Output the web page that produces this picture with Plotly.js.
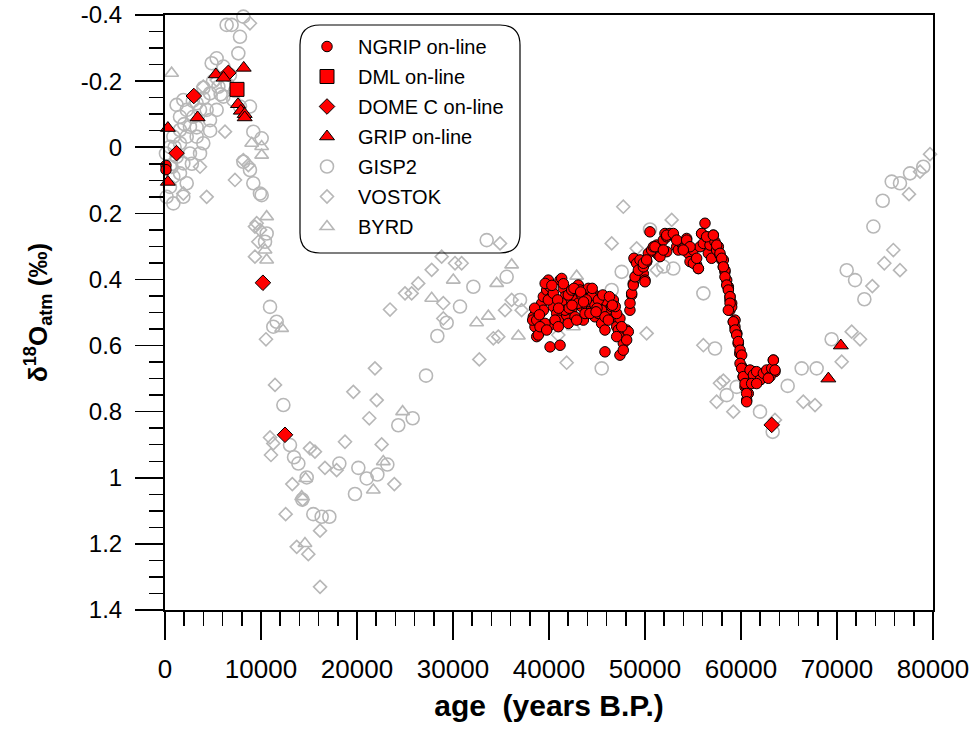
<!DOCTYPE html>
<html>
<head>
<meta charset="utf-8">
<script src="https://cdn.plot.ly/plotly-3.0.1.min.js"></script>
<style>html,body{margin:0;padding:0;background:#fff;}#chart{width:969px;height:731px;}</style>
</head>
<body>
<div id="chart"></div>
<script>
// ---------- data (age in years B.P., delta18O atm in permil) ----------
const ngripAge = [100,100,
38370,38540,38720,38890,38300,39060,39240,39410,39760,39930,40110,40280,40450,40800,40970,41150,41320,41490,41670,41840,42010,42190,42360,42530,42710,42880,43050,43230,43400,43580,43750,43920,44100,44270,44440,44620,44790,44960,45140,45310,45480,45660,45830,46000,46180,46350,46700,46870,47050,47220,47390,47570,47740,47910,48090,48260,47390,45830,40110,41150,40110,
38720,39410,39580,39930,40450,40630,41320,41670,42010,42360,42710,43050,43400,43750,44100,44440,44790,45140,45480,45830,46180,46530,47050,47570,48090,47740,47050,39060,39760,40970,42880,44270,
39600,40300,40900,41500,42100,42600,43300,43900,44500,45000,45600,46300,46900,38500,39000,41000,42400,43600,44900,46600,
48430,48610,48780,48950,49130,49470,49820,50170,50520,50860,51210,51380,
48440,48610,48780,48960,48850,49130,49310,49480,49830,50000,50170,50350,50690,50870,51220,51560,51910,52080,52260,52600,52950,53300,53470,53820,53990,54340,54510,54690,55030,55380,55560,55730,55900,56080,56250,56420,56600,56770,56940,57120,57290,57460,57640,57810,57990,58160,58330,58510,58680,58850,59030,58850,59200,59370,59550,59720,59890,60070,60240,60420,60590,52260,51560,
52260,52950,53300,54340,54690,55040,55560,55900,56420,57120,57470,57810,58160,58330,58680,58850,59030,59380,59550,59720,59900,60070,60240,60590,60760,61290,61980,62850,63370,63540,49830,50170,50000,51040,51910,53990,55380,
57990,58160,58330,58510,58680,58860,58860,58680,59200,59380,59550,59720,59900,60070,59900,60070,60240,60420,60590,60590,60940,61290,61630,61980,62330,62680,63020,63200,63370,63540,61110,61630,62850];
const ngripD = [0.055,0.068,
0.513,0.543,0.573,0.568,0.523,0.503,0.472,0.452,0.432,0.402,0.422,0.452,0.482,0.503,0.523,0.402,0.397,0.427,0.452,0.508,0.533,0.472,0.493,0.452,0.442,0.462,0.417,0.432,0.482,0.523,0.452,0.493,0.427,0.462,0.482,0.442,0.513,0.472,0.503,0.452,0.533,0.482,0.553,0.467,0.493,0.503,0.462,0.513,0.543,0.553,0.518,0.573,0.593,0.563,0.553,0.558,0.629,0.619,0.604,0.599,0.538,
0.523,0.493,0.533,0.462,0.442,0.523,0.472,0.493,0.447,0.432,0.513,0.472,0.447,0.503,0.467,0.452,0.477,0.462,0.493,0.513,0.523,0.482,0.503,0.543,0.583,0.614,0.573,0.543,0.553,0.543,0.523,0.503,
0.412,0.418,0.462,0.413,0.487,0.427,0.438,0.462,0.427,0.487,0.447,0.452,0.482,0.487,0.507,0.487,0.478,0.468,0.498,0.478,
0.493,0.447,0.412,0.341,0.387,0.351,0.382,0.346,0.256,0.311,0.301,0.326,
0.472,0.442,0.417,0.392,0.336,0.351,0.372,0.341,0.362,0.402,0.346,0.321,0.311,0.301,0.296,0.311,0.281,0.261,0.271,0.261,0.266,0.301,0.311,0.291,0.306,0.276,0.321,0.346,0.311,0.356,0.367,0.301,0.261,0.291,0.230,0.271,0.321,0.296,0.336,0.266,0.286,0.311,0.301,0.326,0.341,0.362,0.377,0.402,0.422,0.452,0.472,0.493,0.528,0.543,0.563,0.593,0.624,0.664,0.694,0.725,0.765,0.316,0.331,
0.266,0.261,0.281,0.281,0.301,0.351,0.367,0.261,0.271,0.266,0.296,0.321,0.341,0.372,0.427,0.462,0.483,0.523,0.563,0.594,0.624,0.664,0.694,0.725,0.745,0.679,0.704,0.679,0.644,0.679,0.351,0.341,0.407,0.301,0.311,0.311,0.336,
0.336,0.362,0.392,0.417,0.432,0.452,0.472,0.493,0.528,0.553,0.568,0.588,0.614,0.629,0.654,0.669,0.694,0.715,0.745,0.770,0.674,0.689,0.679,0.704,0.684,0.674,0.694,0.669,0.644,0.674,0.715,0.715,0.699];

const dmlAge = [7500];
const dmlD = [-0.175];

const domecAge = [1200,3000,6600,10200,12500,63200];
const domecD = [0.018,-0.155,-0.225,0.41,0.87,0.84];

const gripAge = [300,300,3400,5300,6100,8200,7600,7900,8300,8300,69100,70400];
const gripD = [-0.058,0.105,-0.09,-0.22,-0.21,-0.24,-0.13,-0.11,-0.10,-0.09,0.70,0.60];

const gisp2Age = [6420,6940,8160,7810,7640,5380,4860,6080,6770,5560,4690,3990,3300,1910,1210,2260,1560,2950,3650,4340,5380,6080,7120,7810,8850,4690,2600,1560,870,2260,3300,3990,1560,520,100,1210,1910,2600,3650,520,1560,870,2260,520,1910,870,170,9890,9200,8850,8160,9200,10070,10070,10590,10420,10940,11630,11280,12330,
2900,4000,5000,6500,3300,2000,1000,700,2800,4700,5800,7300,
13020,13440,13890,14760,14300,15450,16320,17120,18160,20140,21010,22120,23160,19790,25800,24300,27190,28370,29340,30730,32120,33510,35590,36980,39060,
50520,47570,46530,52950,51910,56080,57290,45490,58510,59550,61980,64860,66320,67880,69440,63300,71010,71880,72850,73790,74760,75700,76560,77610,78990];
const gisp2D = [-0.370,-0.370,-0.395,-0.334,-0.284,-0.269,-0.254,-0.244,-0.218,-0.183,-0.163,-0.148,-0.133,-0.143,-0.128,-0.113,-0.092,-0.092,-0.113,-0.113,-0.113,-0.153,-0.143,-0.123,-0.123,-0.082,-0.062,-0.052,-0.032,-0.032,-0.032,-0.012,-0.012,-0.001,0.019,0.029,0.049,0.019,0.019,0.059,0.079,0.089,0.109,0.120,0.150,0.170,0.150,0.140,0.109,0.069,0.044,-0.047,-0.027,0.145,0.261,0.286,0.483,0.528,0.543,0.780,
-0.14,-0.18,-0.20,-0.19,-0.06,-0.07,0.00,0.06,0.05,-0.05,-0.16,-0.17,
0.901,0.938,0.957,0.999,1.066,1.110,1.118,1.118,0.957,0.970,1.002,0.990,0.960,1.049,0.820,0.841,0.691,0.571,0.531,0.482,0.422,0.281,0.392,0.462,0.553,
0.249,0.377,0.432,0.367,0.361,0.442,0.609,0.669,0.750,0.725,0.800,0.722,0.669,0.669,0.581,0.861,0.372,0.402,0.460,0.240,0.162,0.104,0.109,0.079,0.059];

const vostokAge = [8850,6250,7290,4340,8160,8680,3650,1910,5380,3990,9550,9900,9370,9720,9370,10520,11460,
10940,11280,11040,15100,15620,16660,17880,18750,22570,13260,14340,12570,16150,13720,14930,16150,21280,22050,23890,19620,21870,
23440,25000,25690,26380,27780,28820,28990,28990,30210,30900,34900,35420,36110,37150,34200,34720,32740,
47740,52780,46530,49130,40970,41840,50170,56080,57810,57460,59200,58160,63540,66490,67710,70490,71530,72400,73680,74930,75870,76560,77500,78650,79690,51220];
const vostokD = [-0.375,-0.047,0.099,0.150,0.039,0.054,0.059,0.140,-0.203,-0.183,0.230,0.250,0.240,0.286,0.331,0.581,0.719,
0.878,0.896,0.931,0.911,0.921,0.970,0.977,0.891,0.899,1.019,1.066,1.110,1.160,1.209,1.231,1.330,0.820,0.765,1.019,0.740,0.669,
0.491,0.442,0.442,0.412,0.371,0.331,0.472,0.518,0.351,0.351,0.291,0.493,0.462,0.493,0.578,0.573,0.642,
0.180,0.220,0.291,0.306,0.568,0.652,0.563,0.599,0.714,0.770,0.800,0.706,0.825,0.770,0.780,0.649,0.558,0.581,0.420,0.351,0.311,0.372,0.142,0.074,0.021,0.372];

const byrdAge = [690,9030,10070,10070,10590,10420,10590,12150,14650,14240,14580,22740,21700,24750,27780,30030,36110,34550,32460,33680,36810,42880,42540];
const byrdD = [-0.224,-0.012,-0.002,0.024,0.210,0.311,0.341,0.548,1.002,1.057,1.199,0.951,1.037,0.800,0.457,0.402,0.356,0.412,0.531,0.511,0.571,0.390,0.543];

const xTickVals = [0,10000,20000,30000,40000,50000,60000,70000,80000];
const xTickText = ['0','10000','20000','30000','40000','50000','60000','70000','80000'];
const yTickVals = [-0.4,-0.2,0,0.2,0.4,0.6,0.8,1,1.2,1.4];
const yTickText = ['-0.4','-0.2','0','0.2','0.4','0.6','0.8','1','1.2','1.4'];

// ---------- styling ----------
const RED = '#ff0000';
const GRAY = '#b7b7b7';
const FONT = 'Liberation Sans, Arial, Helvetica, sans-serif';

function tr(name, x, y, marker, rank) {
  return {type:'scatter', mode:'markers', name:name, x:x, y:y, marker:marker,
          legendrank:rank, legendgroup:name, cliponaxis:false, hoverinfo:'x+y+name'};
}

const data = [
  tr('GISP2', gisp2Age, gisp2D, {symbol:'circle-open', size:13, color:GRAY, line:{color:GRAY, width:1.6}}, 5),
  tr('VOSTOK', vostokAge, vostokD, {symbol:'diamond-open', size:10, color:GRAY, line:{color:GRAY, width:1.6}}, 6),
  tr('BYRD', byrdAge, byrdD, {symbol:'triangle-up-open', size:12, color:GRAY, line:{color:GRAY, width:1.6}}, 7),
  tr('NGRIP on-line', ngripAge, ngripD, {symbol:'circle', size:10.5, color:RED, line:{color:'#000', width:1}}, 1),
  tr('DML on-line', dmlAge, dmlD, {symbol:'square', size:14, color:RED, line:{color:'#000', width:1}}, 2),
  tr('DOME C on-line', domecAge, domecD, {symbol:'diamond', size:12, color:RED, line:{color:'#000', width:1}}, 3),
  tr('GRIP on-line', gripAge, gripD, {symbol:'triangle-up', size:13, color:RED, line:{color:'#000', width:1}}, 4)
];

// legend frame (rounded rectangle) in paper coords
const x0 = (300-165)/768, x1 = (520-165)/768, yt = (610-25)/595, yb = (610-253)/595;
const rx = 20/768, ry = 20/595;
const boxPath = 'M'+(x0+rx)+','+yt+' L'+(x1-rx)+','+yt+' Q'+x1+','+yt+' '+x1+','+(yt-ry)+
  ' L'+x1+','+(yb+ry)+' Q'+x1+','+yb+' '+(x1-rx)+','+yb+' L'+(x0+rx)+','+yb+' Q'+x0+','+yb+' '+x0+','+(yb+ry)+
  ' L'+x0+','+(yt-ry)+' Q'+x0+','+yt+' '+(x0+rx)+','+yt+' Z';

const axisCommon = {
  showgrid:false, zeroline:false, showline:true, linecolor:'#000', linewidth:2, mirror:true,
  ticks:'outside', ticklen:28, tickwidth:1.5, tickcolor:'#000', tickmode:'array',
  ticklabeloverflow:'allow'
};

const layout = {
  width:969, height:731,
  margin:{l:165, r:36, t:15, b:121, pad:0},
  paper_bgcolor:'#fff', plot_bgcolor:'#fff',
  font:{family:FONT, color:'#000'},
  showlegend:true,
  legend:{x:(296-165)/768, y:(610-27)/595, xanchor:'left', yanchor:'top',
          bgcolor:'rgba(0,0,0,0)', borderwidth:0, itemwidth:52, tracegroupgap:1,
          traceorder:'grouped', font:{family:FONT, size:20, color:'#000'}},
  xaxis: Object.assign({}, axisCommon, {
    range:[0,80000], tickvals:xTickVals, ticktext:xTickText, ticklabelstandoff:7,
    tickfont:{family:FONT, size:26, color:'#000'},
    minor:{tickmode:'linear', tick0:0, dtick:2000, ticks:'outside', ticklen:14, tickwidth:1.5, tickcolor:'#000', showgrid:false},
    title:{text:'<b>age \u00a0(years B.P.)</b>', font:{family:FONT, size:30, color:'#000'}, standoff:12}
  }),
  yaxis: Object.assign({}, axisCommon, {
    range:[1.4,-0.4], tickvals:yTickVals, ticktext:yTickText, ticklabelstandoff:8,
    tickfont:{family:FONT, size:24, color:'#000'},
    minor:{tickmode:'linear', tick0:0, dtick:0.05, ticks:'outside', ticklen:14, tickwidth:1.5, tickcolor:'#000', showgrid:false},
    title:{text:'<b>\u03b4<sup>18</sup>O<sub>atm</sub> (\u2030)</b>', font:{family:FONT, size:26, color:'#000'}, standoff:26}
  }),
  shapes:[{type:'path', xref:'paper', yref:'paper', path:boxPath, line:{color:'#000', width:1.2}, fillcolor:'rgba(0,0,0,0)', layer:'above'}]
};

Plotly.newPlot('chart', data, layout, {displayModeBar:false, staticPlot:true});
</script>
</body>
</html>
